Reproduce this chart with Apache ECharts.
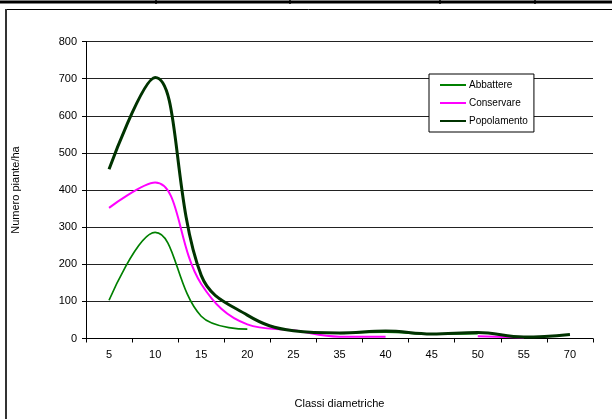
<!DOCTYPE html>
<html><head><meta charset="utf-8">
<script src="https://cdn.jsdelivr.net/npm/echarts@6/dist/echarts.min.js"></script>
<style>html,body{margin:0;padding:0;background:#fff}#c{width:612px;height:419px}</style>
</head><body><div id="c"></div>
<script>
const categories = ['5','10','15','20','25','35','40','45','50','55','70'];
const abbattere  = [103, 286, 60, 25, null, 14, 17, 12, 13, null, null];
const conservare = [352, 420, 147, 38, 22, 5, 5, null, 6, 3, null];
const popolamento = [456, 703, 170, 63, 21, 15, 20, 12, 16, 4, 11];
const yTicks = [0, 100, 200, 300, 400, 500, 600, 700, 800];

const font = 'Liberation Sans, Arial, sans-serif';
const chart = echarts.init(document.getElementById('c'), null, {renderer: 'canvas'});
chart.setOption({
  animation: false,
  backgroundColor: '#fff',
  textStyle: {fontFamily: font, color: '#000'},
  graphic: [
    {type: 'rect', shape: {x: 0, y: 0.5, width: 612, height: 3}, style: {fill: '#000'}},
    {type: 'line', shape: {x1: 156, y1: 0, x2: 156, y2: 4}, style: {stroke: '#000', lineWidth: 1.5}},
    {type: 'line', shape: {x1: 290, y1: 0, x2: 290, y2: 4}, style: {stroke: '#000', lineWidth: 1.5}},
    {type: 'line', shape: {x1: 440, y1: 0, x2: 440, y2: 4}, style: {stroke: '#000', lineWidth: 1.5}},
    {type: 'line', shape: {x1: 535, y1: 0, x2: 535, y2: 4}, style: {stroke: '#000', lineWidth: 1.5}},
    {type: 'line', shape: {x1: 5, y1: 9.5, x2: 612, y2: 9.5}, style: {stroke: '#000', lineWidth: 1}},
    {type: 'line', shape: {x1: 6, y1: 9, x2: 6, y2: 419}, style: {stroke: '#333', lineWidth: 2}}
  ],
  grid: {left: 86, right: 19, top: 41.5, bottom: 80.5, containLabel: false},
  legend: {
    orient: 'vertical', left: 429, top: 74,
    data: ['Abbattere', 'Conservare', 'Popolamento'],
    backgroundColor: '#fff', borderColor: '#000', borderWidth: 1,
    padding: [4, 6, 4, 10], itemWidth: 26, itemHeight: 12, itemGap: 4,
    itemStyle: {opacity: 0},
    textStyle: {fontFamily: font, fontSize: 10, lineHeight: 14, color: '#000', padding: [0, 0, 0, -2]}
  },
  xAxis: {
    type: 'category', data: categories, boundaryGap: true,
    name: 'Classi diametriche', nameLocation: 'middle', nameGap: 60,
    nameTextStyle: {fontFamily: font, fontSize: 11, color: '#000'},
    axisLine: {lineStyle: {color: '#000', width: 1}},
    axisTick: {show: true, length: 4, lineStyle: {color: '#000'}},
    axisLabel: {fontFamily: font, fontSize: 11, color: '#000', margin: 11},
    splitLine: {show: false}
  },
  yAxis: {
    type: 'value', min: 0, max: 800, interval: 100,
    name: 'Numero piante/ha', nameLocation: 'middle', nameGap: 65,
    nameTextStyle: {fontFamily: font, fontSize: 11, color: '#000'},
    axisLine: {show: true, lineStyle: {color: '#000', width: 1}},
    axisTick: {show: true, length: 4, lineStyle: {color: '#000'}},
    axisLabel: {fontFamily: font, fontSize: 11, color: '#000', margin: 9,
      formatter: v => yTicks.includes(v) ? String(v) : ''},
    splitLine: {show: true, lineStyle: {color: '#222', width: 1}}
  },
  series: [
    {name: 'Abbattere', type: 'line', data: abbattere, smooth: 0.4, symbol: 'none',
     connectNulls: false, lineStyle: {color: '#008000', width: 1.7}, itemStyle: {color: '#008000'}},
    {name: 'Conservare', type: 'line', data: conservare, smooth: 0.4, symbol: 'none',
     connectNulls: false, lineStyle: {color: '#FF00FF', width: 2}, itemStyle: {color: '#FF00FF'}},
    {name: 'Popolamento', type: 'line', data: popolamento, smooth: 0.4, symbol: 'none',
     connectNulls: false, lineStyle: {color: '#003300', width: 3}, itemStyle: {color: '#003300'}}
  ]
});
</script></body></html>
